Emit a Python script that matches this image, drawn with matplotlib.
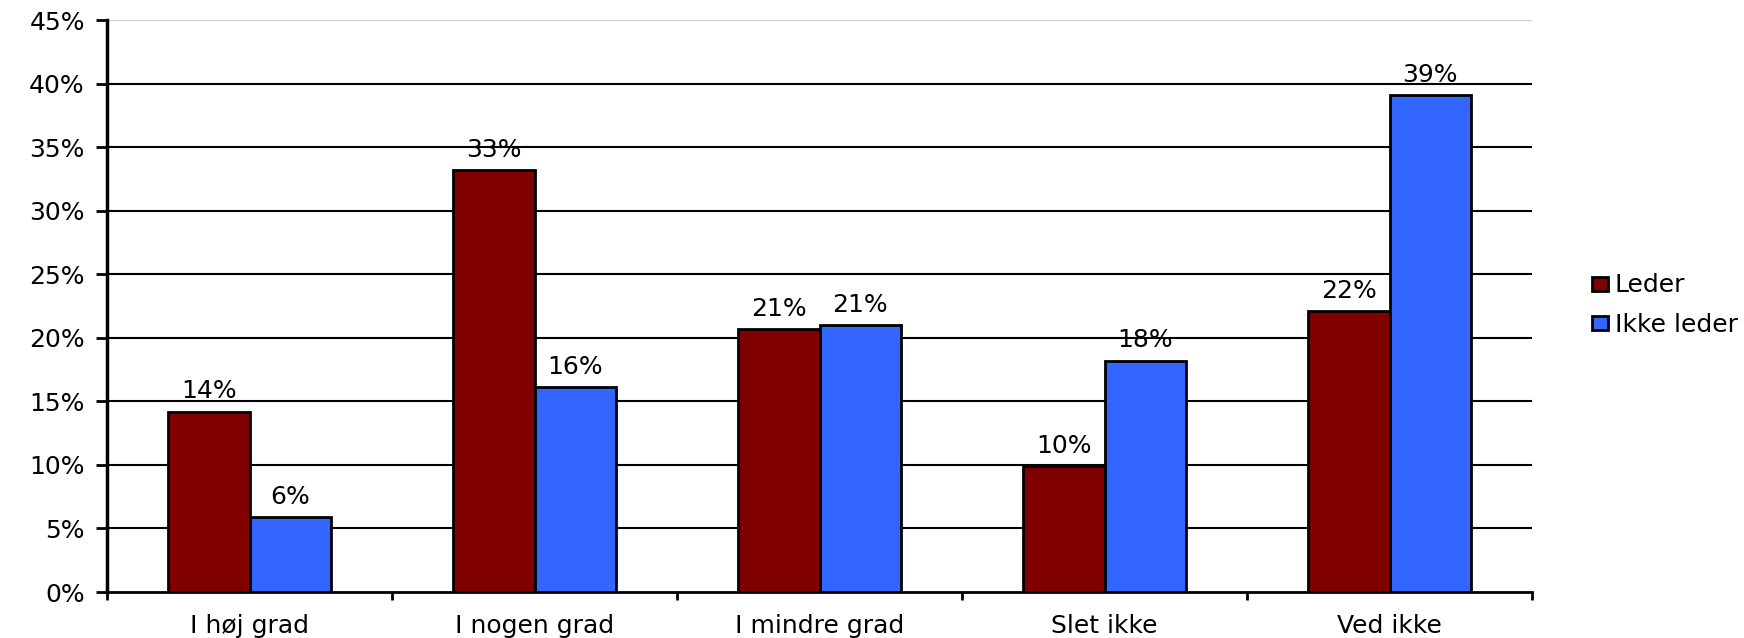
import numpy as np
import matplotlib.pyplot as plt
from matplotlib.ticker import FixedLocator, FuncFormatter

#===================================================================================================
# data
categories = ['I høj grad', 'I nogen grad', 'I mindre grad', 'Slet ikke', 'Ved ikke']
leder = [14.2, 33.2, 20.7, 9.9, 22.1]          # % Leder
ikke_leder = [5.9, 16.1, 21.0, 18.2, 39.1]     # % Ikke leder
series_names = ['Leder', 'Ikke leder']
yticks = [0, 5, 10, 15, 20, 25, 30, 35, 40, 45]

#===================================================================================================
plt.rcParams['font.family'] = ['DejaVu Sans']
fs = 18

fig = plt.figure(figsize=(17.44, 6.38), dpi=100)
ax = fig.add_axes([107/1744, 46/638, (1532-107)/1744, (592-20)/638])

x = np.arange(len(categories))
w = 0.285
b1 = ax.bar(x - w/2, leder, w, color='#800000', edgecolor='black', linewidth=2,
            label=series_names[0], zorder=3)
b2 = ax.bar(x + w/2, ikke_leder, w, color='#3366FF', edgecolor='black', linewidth=2,
            label=series_names[1], zorder=3)

for bars, vals in [(b1, leder), (b2, ikke_leder)]:
    for r, v in zip(bars, vals):
        ax.annotate(f'{v:.0f}%', (r.get_x() + r.get_width()/2, v), xytext=(0, 6),
                    textcoords='offset points', ha='center', va='bottom', fontsize=fs, zorder=4)

#grid lines
for t in yticks[1:-1]:
    ax.axhline(t, color='black', linewidth=1.5, zorder=1)
ax.axhline(yticks[-1], color='#d0d0d0', linewidth=1.0, zorder=1)

ax.set_xlim(-0.5, len(categories) - 0.5)
ax.set_ylim(0, 45)
ax.set_yticks(yticks)
ax.yaxis.set_major_formatter(FuncFormatter(lambda v, p: f'{v:.0f}%'))

ax.xaxis.set_major_locator(FixedLocator(np.arange(len(categories) + 1) - 0.5))
ax.xaxis.set_major_formatter(FuncFormatter(lambda v, p: ''))
ax.xaxis.set_minor_locator(FixedLocator(x))
ax.set_xticks(x, categories, minor=True)
ax.tick_params(axis='x', which='minor', length=0, pad=16, labelsize=fs)
ax.tick_params(axis='x', which='major', length=6, width=2, direction='out')
ax.tick_params(axis='y', length=8, width=2, direction='out', labelsize=fs, pad=8)

for s in ['top', 'right']:
    ax.spines[s].set_visible(False)
ax.spines['left'].set_linewidth(2.5)
ax.spines['bottom'].set_linewidth(2)

leg = ax.legend(loc='center left', bbox_to_anchor=(1582/1744, 333/638), bbox_transform=fig.transFigure,
                frameon=False, fontsize=fs, handlelength=0.65, handleheight=0.5,
                handletextpad=0.25, labelspacing=0.6, borderaxespad=0)

fig.savefig('out.png', dpi=100)
plt.close()
